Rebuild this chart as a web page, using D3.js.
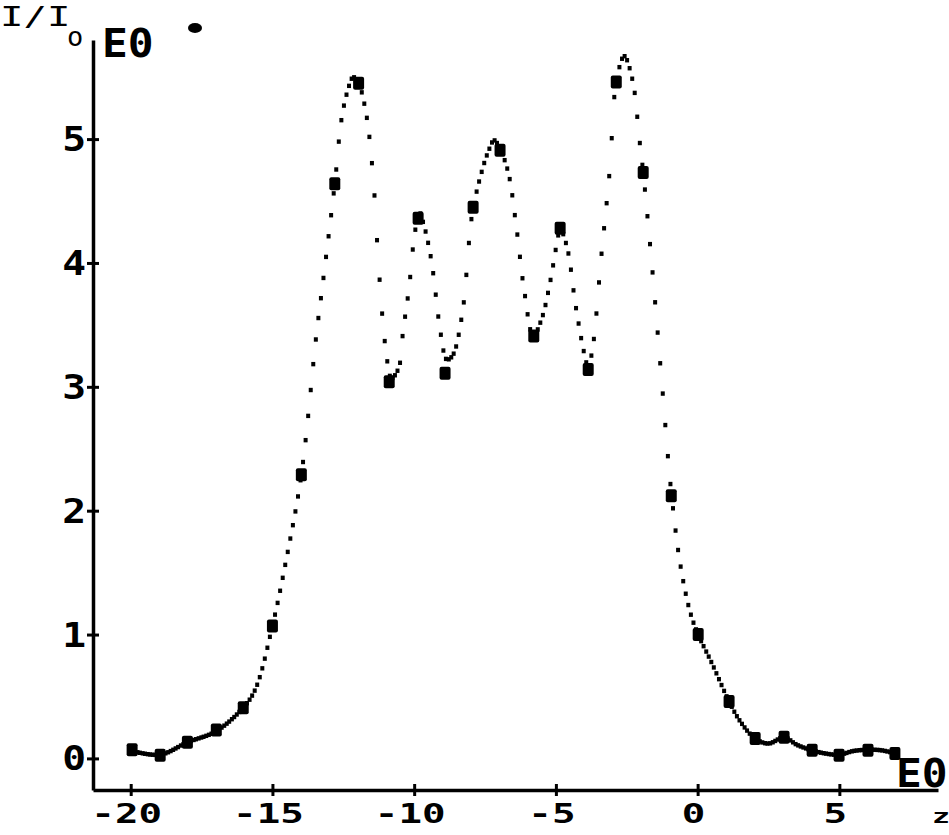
<!DOCTYPE html>
<html>
<head>
<meta charset="utf-8">
<script src="https://cdn.jsdelivr.net/npm/d3@7"></script>
<style>
  html, body { margin: 0; padding: 0; background: #fff; }
  svg { display: block; }
  text { font-family: "DejaVu Sans Mono", monospace; fill: #000; }
</style>
</head>
<body>
<div id="chart"></div>
<script>
// ---- data ----
// measured points (square markers)
const zValues = [-19.95, -18.96, -18.0, -16.98, -16.03, -15.0, -13.98, -12.8, -11.96, -10.88,
                 -9.86, -8.91, -7.92, -6.97, -5.78, -4.85, -3.86, -2.87, -1.92, -0.93,
                 0.02, 1.11, 2.03, 3.05, 4.04, 4.99, 6.01, 6.96];
const intensity = [0.07, 0.025, 0.13, 0.23, 0.41, 1.07, 2.29, 4.64, 5.45, 3.04,
                   4.36, 3.11, 4.45, 4.91, 3.41, 4.28, 3.14, 5.46, 4.73, 2.12,
                   1.0, 0.46, 0.16, 0.17, 0.065, 0.025, 0.065, 0.04];
// dotted curve, points read along it
const curveZ = [-19.95, -18.96, -18.0, -16.98, -16.03, -15.6, -15.0, -14.5, -13.98, -13.45,
                -13.21, -12.8, -12.57, -12.36, -12.15, -11.96, -11.69, -11.45, -11.24, -11.0,
                -10.8, -10.55, -10.39, -10.18, -10.0, -9.82, -9.65, -9.4, -9.05, -8.85,
                -8.65, -8.31, -7.95, -7.6, -7.4, -7.18, -6.97, -6.68, -6.4, -6.1,
                -5.8, -5.5, -5.2, -4.95, -4.85, -4.6, -4.3, -4.0, -3.86, -3.7,
                -3.4, -3.1, -2.87, -2.59, -2.3, -2.05, -1.92, -1.6, -1.25, -0.93,
                -0.6, -0.25, 0.02, 0.5, 1.11, 1.5, 2.03, 2.5, 3.05, 3.5,
                4.04, 4.5, 4.99, 5.5, 6.01, 6.5, 6.96];
const curveI = [0.06, 0.03, 0.13, 0.22, 0.41, 0.56, 1.07, 1.62, 2.29, 3.42,
                3.86, 4.64, 5.15, 5.38, 5.5, 5.45, 5.2, 4.7, 3.93, 3.3,
                3.07, 3.15, 3.45, 3.8, 4.2, 4.41, 4.3, 4.03, 3.41, 3.22,
                3.25, 3.58, 4.4, 4.75, 4.89, 4.99, 4.92, 4.73, 4.3, 3.75,
                3.41, 3.55, 3.85, 4.18, 4.28, 4.12, 3.65, 3.27, 3.16, 3.32,
                4.05, 4.75, 5.46, 5.67, 5.48, 4.99, 4.73, 3.95, 3.0, 2.15,
                1.55, 1.17, 1.0, 0.77, 0.46, 0.3, 0.16, 0.12, 0.17, 0.11,
                0.065, 0.04, 0.03, 0.06, 0.07, 0.065, 0.04];
const xTicks = [-20, -15, -10, -5, 0, 5];
const xTickLabels = ["-20", "-15", "-10", "-5", "0", "5"];
const yTicks = [0, 1, 2, 3, 4, 5];
const yTickLabels = ["0", "1", "2", "3", "4", "5"];
const yTitle = "I/I";
const yTitleSub = "o";
const yExponent = "E0";
const xExponent = "E0";
const xTitle = "z";
const sampleStep = 0.09; // curve plotted as dots every 0.09 in z

// ---- layout ----
const W = 949, H = 835;
const svg = d3.select("#chart").append("svg").attr("width", W).attr("height", H);

const x = d3.scaleLinear().domain([-21.33, 8.48]).range([93, 938]);
const y = d3.scaleLinear().domain([-0.255, 5.8]).range([790, 40]);

const data = zValues.map((z, i) => [z, intensity[i]]);
const curveData = curveZ.map((z, i) => [z, curveI[i]]);

// ---- axes ----
const xAxis = d3.axisBottom(x).tickValues(xTicks).tickSizeInner(6).tickSizeOuter(0).tickFormat("");
const gx = svg.append("g").attr("class", "x-axis").attr("transform", `translate(0,${y.range()[0]})`).call(xAxis);
gx.select(".domain").attr("stroke", "#000").attr("stroke-width", 3.5);
gx.selectAll(".tick line").attr("y1", -6).attr("y2", 6).attr("stroke", "#000").attr("stroke-width", 3);

const yAxis = d3.axisLeft(y).tickValues(yTicks).tickSizeInner(6).tickSizeOuter(0).tickFormat("");
const gy = svg.append("g").attr("class", "y-axis").attr("transform", `translate(${x.range()[0]},0)`).call(yAxis);
gy.select(".domain").attr("stroke", "#000").attr("stroke-width", 3.5);
gy.selectAll(".tick line").attr("x1", -6).attr("x2", 6).attr("stroke", "#000").attr("stroke-width", 3);

// x tick labels
svg.append("g").attr("class", "x-labels").selectAll("g")
  .data(xTicks)
  .join("g")
  .attr("transform", d => `translate(${x(d) - 4},823) scale(1.45,1)`)
  .append("text")
  .attr("text-anchor", "middle")
  .attr("font-size", 27)
  .attr("font-weight", "bold")
  .text((d, i) => xTickLabels[i]);

// y tick labels
svg.append("g").attr("class", "y-labels").selectAll("g")
  .data(yTicks)
  .join("g")
  .attr("transform", d => `translate(86,${y(d) + 12}) scale(1.2,1)`)
  .append("text")
  .attr("text-anchor", "end")
  .attr("font-size", 33)
  .attr("font-weight", "bold")
  .text((d, i) => yTickLabels[i]);

// titles
svg.append("g").attr("transform", "translate(0,26) scale(1.5,1)")
  .append("text").attr("font-size", 26).text(yTitle);
svg.append("text").attr("x", 67).attr("y", 46).attr("font-size", 27).text(yTitleSub);
svg.append("g").attr("transform", "translate(102,57) scale(1.1,1)")
  .append("text").attr("font-size", 39).attr("font-weight", "bold").text(yExponent);
svg.append("g").attr("transform", "translate(896,787) scale(1.1,1)")
  .append("text").attr("font-size", 39).attr("font-weight", "bold").text(xExponent);
svg.append("g").attr("transform", "translate(932,823) scale(1.5,1)")
  .append("text").attr("font-size", 20).attr("font-weight", "bold").text(xTitle);
// small legend-like blob near the title
svg.append("ellipse").attr("cx", 195).attr("cy", 28).attr("rx", 7).attr("ry", 5).attr("fill", "#000");

// ---- curve drawn as dots at a fixed z step along a smooth line through curve points ----
const lineGen = d3.line().x(d => x(d[0])).y(d => y(d[1])).curve(d3.curveCatmullRom.alpha(0.5));
const guide = svg.append("path").attr("class", "guide").attr("d", lineGen(curveData))
  .attr("fill", "none").attr("stroke", "none");
const node = guide.node();
const L = node.getTotalLength();
const stepPx = x(sampleStep) - x(0);
let nextX = x(curveData[0][0]);
const dots = [];
for (let s = 0; s <= L; s += 0.4) {
  const p = node.getPointAtLength(s);
  if (p.x >= nextX) { dots.push([p.x, p.y]); nextX += stepPx; }
}
svg.append("g").attr("class", "curve-dots").selectAll("rect")
  .data(dots).join("rect")
  .attr("x", d => d[0] - 2).attr("y", d => d[1] - 2.2)
  .attr("width", 4).attr("height", 4.4).attr("fill", "#000");

// ---- markers ----
svg.append("g").attr("class", "markers").selectAll("rect")
  .data(data).join("rect")
  .attr("x", d => x(d[0]) - 5.5).attr("y", d => y(d[1]) - 6.5)
  .attr("width", 11).attr("height", 13).attr("rx", 2).attr("fill", "#000");
</script>
</body>
</html>
